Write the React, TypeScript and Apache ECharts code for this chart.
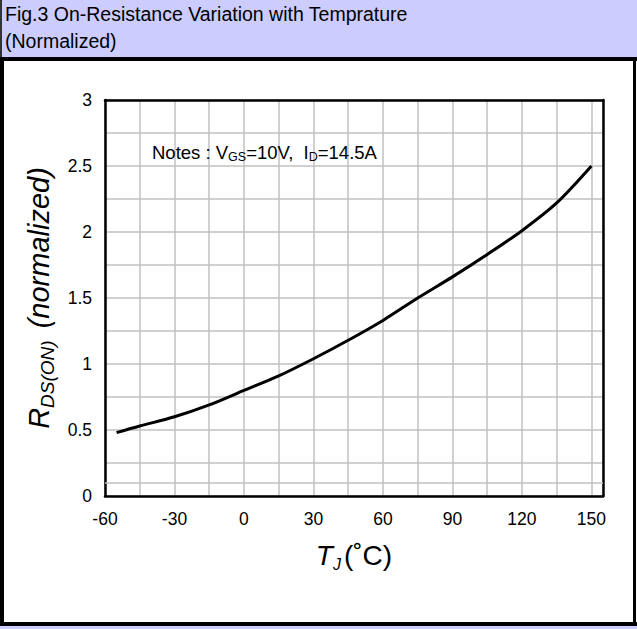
import React, { useEffect, useRef } from "react";
import * as echarts from "echarts";

const temperatures = [-55, -45, -30, -15, 0, 15, 30, 45, 60, 75, 90, 105, 120, 135, 150];
const resistance = [0.48, 0.53, 0.6, 0.69, 0.8, 0.91, 1.04, 1.18, 1.33, 1.5, 1.66, 1.83, 2.01, 2.22, 2.5];
const xTickLabels = ["-60", "-30", "0", "30", "60", "90", "120", "150"];
const yTickLabels = ["0", "0.5", "1", "1.5", "2", "2.5", "3"];
const extraGridLineY = 0.1;

const FONT = "'Liberation Sans', Arial, sans-serif";

export default function App() {
  const ref = useRef<HTMLDivElement>(null);
  useEffect(() => {
    if (!ref.current) return;
    const chart = echarts.init(ref.current, null, { renderer: "svg" });
    const data = temperatures.map((t, i) => [t, resistance[i]]);
    const gridColor = "#C0C0C0";
    const lav = "#CCCCFF";
    chart.setOption({
      animation: false,
      backgroundColor: "#ffffff",
      textStyle: { fontFamily: FONT },
      grid: { left: 105, top: 100, right: 34, bottom: 133 },
      xAxis: [
        {
          type: "value",
          min: -60,
          max: 155,
          interval: 15,
          axisLine: { show: true, onZero: false, lineStyle: { color: "#000", width: 2.5 } },
          axisTick: { show: false },
          axisLabel: {
            margin: 14,
            color: "#000",
            fontSize: 17.5,
            fontFamily: FONT,
            formatter: (v: number) => {
              const s = String(v);
              return xTickLabels.includes(s) ? s : "";
            },
          },
          splitLine: { show: true, lineStyle: { color: gridColor, width: 1.5 } },
          name: "{t|T}{s|J}{n|(˚C)}",
          nameLocation: "middle",
          nameGap: 42,
          nameTextStyle: {
            rich: {
              t: { fontSize: 28, fontStyle: "italic", fontFamily: FONT, color: "#000", lineHeight: 34 },
              s: { fontSize: 16, fontStyle: "italic", fontFamily: FONT, color: "#000", lineHeight: 12, verticalAlign: "bottom", padding: [0, 3, 0, 0] },
              n: { fontSize: 28, fontFamily: FONT, color: "#000", lineHeight: 34 },
            },
          },
        },
        {
          type: "value",
          position: "top",
          min: -60,
          max: 155,
          axisLine: { show: true, onZero: false, lineStyle: { color: "#000", width: 2.5 } },
          axisTick: { show: false },
          axisLabel: { show: false },
          splitLine: { show: false },
        },
      ],
      yAxis: [
        {
          type: "value",
          min: 0,
          max: 3,
          interval: 0.25,
          axisLine: { show: true, onZero: false, lineStyle: { color: "#000", width: 2.5 } },
          axisTick: { show: false },
          axisLabel: {
            margin: 13,
            color: "#000",
            fontSize: 17.5,
            fontFamily: FONT,
            formatter: (v: number) => {
              const s = String(v);
              return yTickLabels.includes(s) ? s : "";
            },
          },
          splitLine: { show: true, lineStyle: { color: gridColor, width: 1.5 } },
          name: "{r|R}{s|DS(ON)}{n|(normalized)}",
          nameLocation: "middle",
          nameRotate: 90,
          nameGap: 46,
          nameTextStyle: {
            rich: {
              r: { fontSize: 29, fontStyle: "italic", fontFamily: FONT, color: "#000", lineHeight: 36 },
              s: { fontSize: 19, fontStyle: "italic", fontFamily: FONT, color: "#000", lineHeight: 18, verticalAlign: "bottom", padding: [0, 12, 0, 0] },
              n: { fontSize: 29, fontStyle: "italic", fontFamily: FONT, color: "#000", lineHeight: 36 },
            },
          },
        },
        {
          type: "value",
          position: "right",
          min: 0,
          max: 3,
          axisLine: { show: true, onZero: false, lineStyle: { color: "#000", width: 2.5 } },
          axisTick: { show: false },
          axisLabel: { show: false },
          splitLine: { show: false },
        },
      ],
      series: [
        {
          type: "line",
          data,
          smooth: 0.3,
          showSymbol: false,
          symbol: "none",
          lineStyle: { color: "#000", width: 3 },
          z: 5,
          markLine: {
            silent: true,
            symbol: "none",
            label: { show: false },
            lineStyle: { color: gridColor, width: 1.5, type: "solid" },
            data: [{ yAxis: extraGridLineY }],
          },
        },
      ],
      graphic: [
        { type: "rect", shape: { x: 0, y: 0, width: 637, height: 57 }, style: { fill: lav }, z: 1 },
        { type: "rect", shape: { x: 0, y: 0, width: 2, height: 57 }, style: { fill: "#333" }, z: 2 },
        { type: "rect", shape: { x: 0, y: 57, width: 637, height: 4 }, style: { fill: "#000" }, z: 2 },
        { type: "rect", shape: { x: 0, y: 57, width: 4, height: 569 }, style: { fill: "#000" }, z: 2 },
        { type: "rect", shape: { x: 633, y: 57, width: 3, height: 569 }, style: { fill: "#000" }, z: 2 },
        { type: "rect", shape: { x: 0, y: 622, width: 637, height: 4 }, style: { fill: "#000" }, z: 2 },
        { type: "rect", shape: { x: 0, y: 626, width: 637, height: 3 }, style: { fill: lav }, z: 2 },
        {
          type: "text",
          x: 5,
          y: 0,
          z: 3,
          style: {
            text: "Fig.3 On-Resistance Variation with Temprature\n(Normalized)",
            font: `19.5px ${FONT}`,
            fill: "#000",
            lineHeight: 27,
          },
        },
        {
          type: "text",
          x: 152,
          y: 141,
          z: 3,
          style: {
            text: "{a|Notes : V}{s|GS}{a|=10V,  I}{s|D}{a|=14.5A}",
            rich: {
              a: { fontSize: 18.5, fontFamily: FONT, fill: "#000", lineHeight: 22 },
              s: { fontSize: 12.5, fontFamily: FONT, fill: "#000", lineHeight: 13, verticalAlign: "bottom" },
            },
          },
        },
      ],
    });
    return () => chart.dispose();
  }, []);
  return (
    <div
      ref={ref}
      style={{ position: "fixed", left: 0, top: 0, width: 637, height: 629 }}
    />
  );
}
